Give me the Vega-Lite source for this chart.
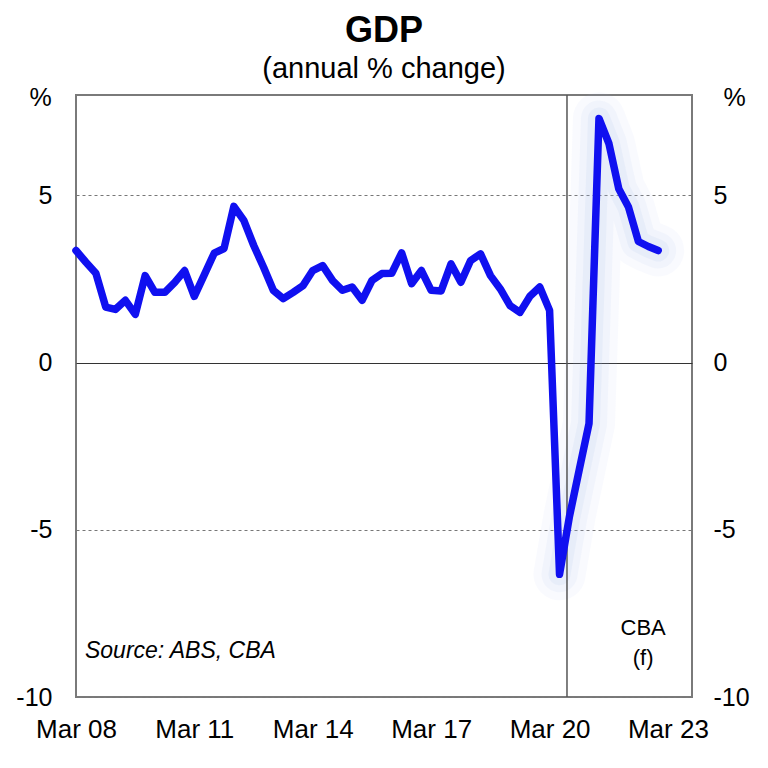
{
  "$schema": "https://vega.github.io/schema/vega-lite/v6.json",
  "width": 616,
  "height": 602,
  "autosize": {"type": "none"},
  "padding": {"left": 76, "top": 95, "right": 76, "bottom": 71},
  "background": "white",
  "config": {
    "font": "Liberation Sans",
    "view": {"stroke": "#7a7a7a", "strokeWidth": 2}
  },
  "title": {
    "text": "GDP",
    "subtitle": "(annual % change)",
    "font": "Liberation Sans",
    "fontSize": 36,
    "fontWeight": "bold",
    "color": "black",
    "subtitleFont": "Liberation Sans",
    "subtitleFontSize": 29,
    "subtitleColor": "black",
    "anchor": "middle",
    "offset": 0,
    "subtitlePadding": 5
  },
  "datasets": {
    "gdp": [
      {"date": "2008-03-01", "value": 3.35, "segment": "actual"},
      {"date": "2008-06-01", "value": 3.0, "segment": "actual"},
      {"date": "2008-09-01", "value": 2.67, "segment": "actual"},
      {"date": "2008-12-01", "value": 1.66, "segment": "actual"},
      {"date": "2009-03-01", "value": 1.59, "segment": "actual"},
      {"date": "2009-06-01", "value": 1.86, "segment": "actual"},
      {"date": "2009-09-01", "value": 1.44, "segment": "actual"},
      {"date": "2009-12-01", "value": 2.6, "segment": "actual"},
      {"date": "2010-03-01", "value": 2.1, "segment": "actual"},
      {"date": "2010-06-01", "value": 2.1, "segment": "actual"},
      {"date": "2010-09-01", "value": 2.4, "segment": "actual"},
      {"date": "2010-12-01", "value": 2.75, "segment": "actual"},
      {"date": "2011-03-01", "value": 1.98, "segment": "actual"},
      {"date": "2011-06-01", "value": 2.62, "segment": "actual"},
      {"date": "2011-09-01", "value": 3.27, "segment": "actual"},
      {"date": "2011-12-01", "value": 3.41, "segment": "actual"},
      {"date": "2012-03-01", "value": 4.67, "segment": "actual"},
      {"date": "2012-06-01", "value": 4.25, "segment": "actual"},
      {"date": "2012-09-01", "value": 3.5, "segment": "actual"},
      {"date": "2012-12-01", "value": 2.85, "segment": "actual"},
      {"date": "2013-03-01", "value": 2.16, "segment": "actual"},
      {"date": "2013-06-01", "value": 1.91, "segment": "actual"},
      {"date": "2013-09-01", "value": 2.1, "segment": "actual"},
      {"date": "2013-12-01", "value": 2.3, "segment": "actual"},
      {"date": "2014-03-01", "value": 2.75, "segment": "actual"},
      {"date": "2014-06-01", "value": 2.9, "segment": "actual"},
      {"date": "2014-09-01", "value": 2.45, "segment": "actual"},
      {"date": "2014-12-01", "value": 2.16, "segment": "actual"},
      {"date": "2015-03-01", "value": 2.26, "segment": "actual"},
      {"date": "2015-06-01", "value": 1.86, "segment": "actual"},
      {"date": "2015-09-01", "value": 2.46, "segment": "actual"},
      {"date": "2015-12-01", "value": 2.66, "segment": "actual"},
      {"date": "2016-03-01", "value": 2.67, "segment": "actual"},
      {"date": "2016-06-01", "value": 3.28, "segment": "actual"},
      {"date": "2016-09-01", "value": 2.36, "segment": "actual"},
      {"date": "2016-12-01", "value": 2.75, "segment": "actual"},
      {"date": "2017-03-01", "value": 2.16, "segment": "actual"},
      {"date": "2017-06-01", "value": 2.14, "segment": "actual"},
      {"date": "2017-09-01", "value": 2.95, "segment": "actual"},
      {"date": "2017-12-01", "value": 2.4, "segment": "actual"},
      {"date": "2018-03-01", "value": 3.05, "segment": "actual"},
      {"date": "2018-06-01", "value": 3.25, "segment": "actual"},
      {"date": "2018-09-01", "value": 2.6, "segment": "actual"},
      {"date": "2018-12-01", "value": 2.2, "segment": "actual"},
      {"date": "2019-03-01", "value": 1.7, "segment": "actual"},
      {"date": "2019-06-01", "value": 1.5, "segment": "actual"},
      {"date": "2019-09-01", "value": 1.98, "segment": "actual"},
      {"date": "2019-12-01", "value": 2.26, "segment": "actual"},
      {"date": "2020-03-01", "value": 1.56, "segment": "actual"},
      {"date": "2020-06-01", "value": -6.33, "segment": "forecast"},
      {"date": "2020-09-01", "value": -4.6, "segment": "forecast"},
      {"date": "2020-12-01", "value": -3.2, "segment": "forecast"},
      {"date": "2021-03-01", "value": -1.82, "segment": "forecast"},
      {"date": "2021-06-01", "value": 7.3, "segment": "forecast"},
      {"date": "2021-09-01", "value": 6.55, "segment": "forecast"},
      {"date": "2021-12-01", "value": 5.2, "segment": "forecast"},
      {"date": "2022-03-01", "value": 4.65, "segment": "forecast"},
      {"date": "2022-06-01", "value": 3.62, "segment": "forecast"},
      {"date": "2022-09-01", "value": 3.47, "segment": "forecast"},
      {"date": "2022-12-01", "value": 3.35, "segment": "forecast"}
    ],
    "divider": [{"date": "2020-08-09"}],
    "notes": [
      {"date": "2008-05-23", "value": -8.62, "label": "Source: ABS, CBA", "kind": "source"},
      {"date": "2022-07-15", "value": -7.93, "label": "CBA", "kind": "fc"},
      {"date": "2022-07-15", "value": -8.83, "label": "(f)", "kind": "fc"}
    ]
  },
  "encoding": {
    "x": {
      "field": "date",
      "type": "temporal",
      "scale": {
        "type": "utc",
        "domain": [
          {"year": 2008, "month": 3, "date": 1, "utc": true},
          {"year": 2023, "month": 10, "date": 10, "utc": true}
        ]
      },
      "axis": {
        "title": null,
        "values": [
          {"year": 2008, "month": 3, "date": 1, "utc": true},
          {"year": 2011, "month": 3, "date": 1, "utc": true},
          {"year": 2014, "month": 3, "date": 1, "utc": true},
          {"year": 2017, "month": 3, "date": 1, "utc": true},
          {"year": 2020, "month": 3, "date": 1, "utc": true},
          {"year": 2023, "month": 3, "date": 1, "utc": true}
        ],
        "format": "%b %y",
        "labelFont": "Liberation Sans",
        "labelFontSize": 26,
        "labelColor": "black",
        "labelPadding": 19,
        "labelFlush": false,
        "labelOverlap": false,
        "ticks": false,
        "domain": false,
        "grid": false
      }
    }
  },
  "layer": [
    {
      "data": {"name": "gdp"},
      "transform": [{"filter": "datum.segment === 'forecast'"}],
      "mark": {"type": "line", "color": "#a8bbea", "strokeWidth": 52, "opacity": 0.07, "strokeJoin": "round", "strokeCap": "round"},
      "encoding": {
        "y": {
          "field": "value",
          "type": "quantitative",
          "scale": {"domain": [-10, 8], "nice": false, "zero": false},
          "axis": {
            "orient": "left",
            "values": [-10, -5, 0, 5],
            "labelExpr": "datum.value < 0 ? '-' + abs(datum.value) : '' + datum.value",
            "labelAlign": "right",
            "title": "%",
            "titleAngle": 0,
            "titleAlign": "center",
            "titleBaseline": "middle",
            "titleX": -36,
            "titleY": 2,
            "titleFont": "Liberation Sans",
            "titleFontSize": 25,
            "titleFontWeight": "normal",
            "titleColor": "black",
            "labelFont": "Liberation Sans",
            "labelFontSize": 25,
            "labelColor": "black",
            "labelPadding": 24,
            "labelFlush": false,
            "ticks": false,
            "domain": false,
            "grid": true,
            "gridColor": {"condition": {"test": "datum.value === 0", "value": "#333333"}, "value": "#777777"},
            "gridDash": {"condition": {"test": "datum.value === 0", "value": []}, "value": [3, 3]},
            "gridWidth": 1
          }
        }
      }
    },
    {
      "data": {"name": "gdp"},
      "transform": [{"filter": "datum.segment === 'forecast'"}],
      "mark": {"type": "line", "color": "#a8bbea", "strokeWidth": 36, "opacity": 0.09, "strokeJoin": "round", "strokeCap": "round"},
      "encoding": {
        "y": {"field": "value", "type": "quantitative", "axis": null}
      }
    },
    {
      "data": {"name": "gdp"},
      "transform": [{"filter": "datum.segment === 'forecast'"}],
      "mark": {"type": "line", "color": "#a8bbea", "strokeWidth": 22, "opacity": 0.12, "strokeJoin": "round", "strokeCap": "round"},
      "encoding": {
        "y": {"field": "value", "type": "quantitative", "axis": null}
      }
    },
    {
      "data": {"name": "divider"},
      "mark": {"type": "rule", "color": "#555555", "strokeWidth": 1.5},
      "encoding": {}
    },
    {
      "data": {"name": "gdp"},
      "mark": {"type": "line", "color": "#1010f0", "strokeWidth": 7.5, "strokeJoin": "round", "strokeCap": "round"},
      "encoding": {
        "y": {
          "field": "value",
          "type": "quantitative",
          "axis": {
            "orient": "right",
            "values": [-10, -5, 0, 5],
            "labelExpr": "datum.value < 0 ? '-' + abs(datum.value) : '' + datum.value",
            "labelAlign": "left",
            "title": "%",
            "titleAngle": 0,
            "titleAlign": "center",
            "titleBaseline": "middle",
            "titleX": 42,
            "titleY": 2,
            "titleFont": "Liberation Sans",
            "titleFontSize": 25,
            "titleFontWeight": "normal",
            "titleColor": "black",
            "labelFont": "Liberation Sans",
            "labelFontSize": 25,
            "labelColor": "black",
            "labelPadding": 21,
            "labelFlush": false,
            "ticks": false,
            "domain": false,
            "grid": false
          }
        }
      }
    },
    {
      "data": {"name": "notes"},
      "transform": [{"filter": "datum.kind === 'source'"}],
      "mark": {"type": "text", "align": "left", "baseline": "middle", "font": "Liberation Sans", "fontSize": 23, "fontStyle": "italic", "color": "black"},
      "encoding": {
        "y": {"field": "value", "type": "quantitative", "axis": null},
        "text": {"field": "label"}
      }
    },
    {
      "data": {"name": "notes"},
      "transform": [{"filter": "datum.kind === 'fc'"}],
      "mark": {"type": "text", "align": "center", "baseline": "middle", "font": "Liberation Sans", "fontSize": 22, "color": "black"},
      "encoding": {
        "y": {"field": "value", "type": "quantitative", "axis": null},
        "text": {"field": "label"}
      }
    }
  ],
  "resolve": {"axis": {"y": "independent"}}
}
